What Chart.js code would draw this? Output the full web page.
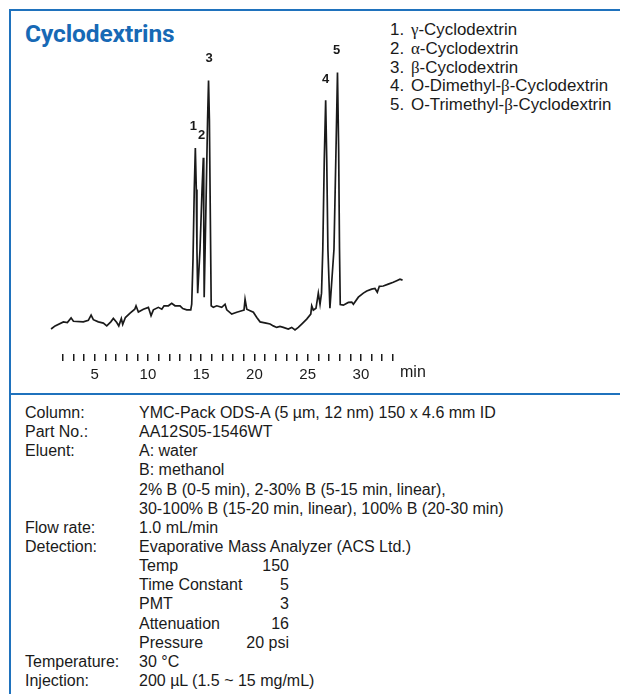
<!DOCTYPE html>
<html lang="en">
<head>
    <meta charset="UTF-8">
    <title>Cyclodextrins</title>
    <script src="https://cdn.jsdelivr.net/npm/chart.js"></script>
    <style>
        body { margin: 0; background: #fff; }
        #page { position: relative; width: 620px; height: 694px; overflow: hidden; font-family: "Liberation Sans", Arial, sans-serif; color: #1a1a1a; }
        #frame { position: absolute; left: 9px; top: 9px; width: 640px; height: 720px; border-left: 2px solid #1f72bd; border-top: 2px solid #1f72bd; }
        #divider { position: absolute; left: 9px; top: 393px; width: 620px; height: 2px; background: #1f72bd; }
        #title { position: absolute; left: 25px; top: 19px; font-family: Roboto, sans-serif; font-weight: bold; font-size: 24.5px; letter-spacing: -0.1px; color: #1769b5; }
        #peaks { position: absolute; left: 390px; top: 21px; font-size: 16.9px; line-height: 18.8px; }
        #peaks .n { display: inline-block; width: 21px; }
        .gr { font-family: "Liberation Serif", "DejaVu Serif", serif; }
        #cond { position: absolute; left: 25px; top: 403px; font-size: 16px; line-height: 19.14px; }
        #cond .row { display: flex; white-space: nowrap; }
        #cond .lab { width: 114px; }
        #cond .par { width: 150px; display: flex; justify-content: space-between; }
        #chart { position: absolute; left: 0; top: 0; }
    </style>
</head>
<body>
<div id="page">
    <div id="frame"></div>
    <div id="title">Cyclodextrins</div>
    <div id="peaks"></div>
    <canvas id="chart" width="620" height="394"></canvas>
    <div id="divider"></div>
    <div id="cond"></div>
</div>

<script>
    // retention time (min) and detector signal
    const times = [0.90, 1.28, 2.06, 2.43, 2.78, 3.00, 3.93, 4.40, 4.66, 4.87, 5.34, 5.81, 6.13, 6.51, 6.75, 7.07, 7.26, 7.50, 7.63, 7.88,
        8.32, 8.76, 8.88, 9.10, 9.57, 10.04, 10.29, 10.51, 10.98, 11.30, 11.51, 11.92, 12.23, 12.54, 13.01, 13.27, 13.64, 14.02,
        14.11, 14.23, 14.35, 14.45, 14.54, 14.60, 14.67,
        14.89, 15.08, 15.20, 15.24, 15.28,
        15.46, 15.60, 15.69, 15.77, 15.86, 15.94,
        16.14, 16.46, 16.93, 17.24, 17.40, 17.87, 18.34, 18.81, 19.02, 19.12, 19.28, 19.59, 19.90, 20.22, 20.53, 21.09, 21.47,
        21.77, 22.09, 22.40, 22.71, 23.18, 23.50, 23.81, 24.12, 24.44, 24.91, 25.29, 25.38, 25.53, 25.78, 26.00, 26.16, 26.30,
        26.42, 26.56, 26.69, 26.79, 26.90, 27.09,
        27.47, 27.68, 27.80, 27.91, 27.99, 28.06,
        28.35, 28.82, 29.14, 29.29, 29.76, 30.23, 30.55, 31.01, 31.32, 31.54, 31.73, 32.10, 32.57, 33.04, 33.36, 33.67, 33.91];
    const signal = [8.1, 9.1, 10.4, 10.2, 11.7, 10.6, 10.4, 10.9, 12.6, 11.1, 10.4, 10.0, 9.1, 10.4, 11.5, 10.2, 9.1, 11.5, 9.6, 11.8,
        13.2, 14.5, 15.6, 13.6, 14.5, 15.1, 12.4, 14.3, 15.1, 14.5, 15.6, 15.6, 16.4, 15.6, 15.6, 14.7, 14.3, 14.3,
        16.1, 30.6, 53.2, 66.7, 53.2, 33.9, 19.7,
        33.9, 53.2, 63.5, 43.5, 18.4,
        50.0, 75.8, 88.5, 75.8, 43.5, 15.6,
        15.1, 15.6, 15.1, 16.1, 14.3, 12.9, 13.5, 14.0, 14.2, 17.7, 14.5, 14.0, 13.5, 11.8, 10.4, 10.0, 9.7,
        9.1, 8.6, 8.9, 8.6, 8.1, 8.6, 7.8, 8.6, 9.7, 11.3, 12.9, 15.6, 14.2, 14.8, 19.7, 16.1, 19.7,
        33.9, 62.9, 82.1, 62.9, 33.9, 14.8,
        33.9, 69.4, 91.1, 66.1, 33.9, 16.0,
        15.8, 16.7, 16.8, 16.1, 18.4, 19.7, 20.4, 21.0, 21.2, 20.0, 21.9, 22.0, 22.6, 23.2, 23.7, 24.2, 23.9];

    const tickMinutes = [2, 3, 4, 5, 6, 7, 8, 9, 10, 11, 12, 13, 14, 15, 16, 17, 18, 19, 20, 21, 22, 23, 24, 25, 26, 27, 28, 29, 30, 31, 32, 33];
    const labelledMinutes = [5, 10, 15, 20, 25, 30];

    // peak numbers and where their labels sit (time, signal)
    const peakIds = ['1', '2', '3', '4', '5'];
    const peakLabelTime = [14.26, 15.05, 15.74, 26.69, 27.73];
    const peakLabelSignal = [73.5, 70.7, 95.5, 88.9, 98.1];

    const compounds = ['γ-Cyclodextrin', 'α-Cyclodextrin', 'β-Cyclodextrin', 'O-Dimethyl-β-Cyclodextrin', 'O-Trimethyl-β-Cyclodextrin'];

    const conditions = [
        ['Column:', 'YMC-Pack ODS-A (5 µm, 12 nm) 150 x 4.6 mm ID'],
        ['Part No.:', 'AA12S05-1546WT'],
        ['Eluent:', 'A: water'],
        ['', 'B: methanol'],
        ['', '2% B (0-5 min), 2-30% B (5-15 min, linear),'],
        ['', '30-100% B (15-20 min, linear), 100% B (20-30 min)'],
        ['Flow rate:', '1.0 mL/min'],
        ['Detection:', 'Evaporative Mass Analyzer (ACS Ltd.)'],
        ['', ['Temp', '150']],
        ['', ['Time Constant', '5']],
        ['', ['PMT', '3']],
        ['', ['Attenuation', '16']],
        ['', ['Pressure', '20 psi']],
        ['Temperature:', '30 °C'],
        ['Injection:', '200 µL (1.5 ~ 15 mg/mL)']
    ];

    // peak list
    const peaksBox = document.getElementById('peaks');
    compounds.forEach((name, i) => {
        const div = document.createElement('div');
        const html = name.replace(/([αβγ])/g, '<span class="gr">$1</span>');
        div.innerHTML = '<span class="n">' + (i + 1) + '.</span>' + html;
        peaksBox.appendChild(div);
    });

    // conditions block
    const condBox = document.getElementById('cond');
    conditions.forEach(([lab, val]) => {
        const row = document.createElement('div');
        row.className = 'row';
        const l = document.createElement('div');
        l.className = 'lab';
        l.textContent = lab;
        row.appendChild(l);
        const v = document.createElement('div');
        if (Array.isArray(val)) {
            v.className = 'par';
            v.innerHTML = '<span>' + val[0] + '</span><span>' + val[1] + '</span>';
        } else {
            v.textContent = val;
        }
        row.appendChild(v);
        condBox.appendChild(row);
    });

    const labelsPlugin = {
        id: 'peakLabels',
        afterDraw(chart) {
            const ctx = chart.ctx;
            const x = chart.scales.x, y = chart.scales.y;
            ctx.save();
            ctx.fillStyle = '#1a1a1a';
            ctx.textAlign = 'center';
            ctx.textBaseline = 'middle';
            ctx.font = 'bold 13px "Liberation Sans", Arial, sans-serif';
            peakIds.forEach((id, i) => {
                ctx.fillText(id, x.getPixelForValue(peakLabelTime[i]), y.getPixelForValue(peakLabelSignal[i]));
            });
            ctx.font = '16px "Liberation Sans", Arial, sans-serif';
            ctx.textAlign = 'left';
            ctx.fillText('min', 400, chart.chartArea.bottom + 19);
            ctx.restore();
        }
    };

    new Chart(document.getElementById('chart').getContext('2d'), {
        type: 'line',
        data: {
            datasets: [{
                data: times.map((t, i) => ({ x: t, y: signal[i] })),
                borderColor: '#1a1a1a',
                borderWidth: 1.7,
                pointRadius: 0,
                tension: 0,
                fill: false
            }]
        },
        options: {
            responsive: false,
            animation: false,
            devicePixelRatio: 1,
            layout: { padding: { left: 50, right: 216.5, top: 45, bottom: 5 } },
            plugins: { legend: { display: false }, tooltip: { enabled: false } },
            scales: {
                x: {
                    type: 'linear',
                    min: 0.8,
                    max: 34,
                    afterBuildTicks: (scale) => { scale.ticks = tickMinutes.map(v => ({ value: v })); },
                    border: { display: false },
                    grid: { drawOnChartArea: false, drawTicks: true, tickLength: 7, color: '#1a1a1a', lineWidth: 1.5 },
                    ticks: {
                        autoSkip: false,
                        maxRotation: 0,
                        padding: 5,
                        color: '#1a1a1a',
                        font: { family: '"Liberation Sans", Arial, sans-serif', size: 15 },
                        callback: (v) => labelledMinutes.includes(v) ? String(v) : ''
                    }
                },
                y: { display: false, min: 0, max: 100 }
            }
        },
        plugins: [labelsPlugin]
    });
</script>
</body>
</html>
